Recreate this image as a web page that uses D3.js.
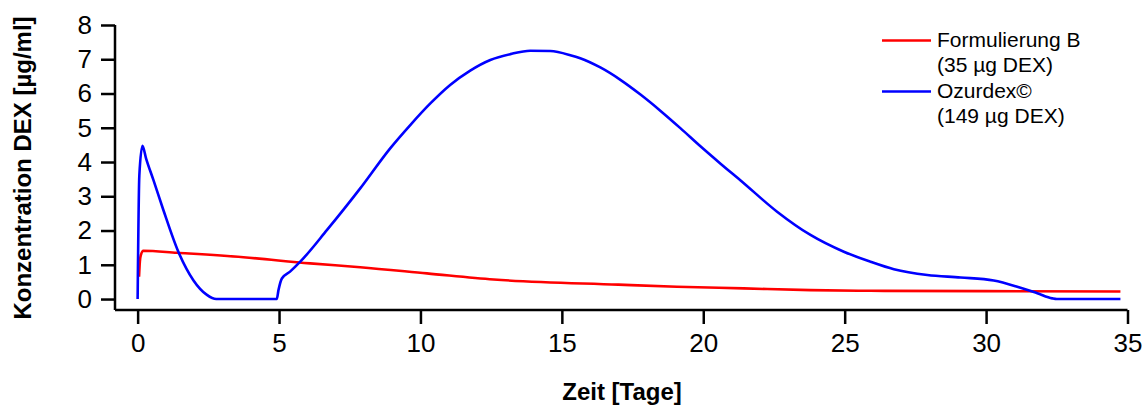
<!DOCTYPE html>
<html>
<head>
<meta charset="utf-8">
<script src="https://cdn.jsdelivr.net/npm/d3@7"></script>
<style>
    body { margin: 0; background: #fff; }
    svg { display: block; font-family: "Liberation Sans", Arial, sans-serif; }
</style>
</head>
<body>
<svg id="chart" width="1147" height="405"></svg>
<script>
// Values (days, µg/ml).
const formBDays = [0.05, 0.08, 0.12, 0.2, 1.39, 3.74, 6.1, 7.87, 10.23, 12.59, 17.0, 19.07, 21.43, 23.79, 25.91, 30.0, 34.75];
const formBConc = [0.65, 1.1, 1.3, 1.41, 1.35, 1.22, 1.04, 0.93, 0.75, 0.57, 0.42, 0.36, 0.31, 0.26, 0.24, 0.23, 0.22];

const ozurdexDays = [0, 0.06, 0.17, 0.3, 0.56, 0.91, 1.44, 1.97, 2.45, 2.78, 4.92, 4.98, 5.1, 5.39, 5.75, 6.69, 7.87,
    8.93, 9.64, 10.35, 11.05, 11.76, 12.47, 13.18, 13.88, 14.59, 15.3, 15.65, 16.36, 17.07, 17.78, 18.48, 19.19,
    19.9, 20.6, 21.31, 22.61, 23.79, 24.97, 25.91, 26.74, 27.92, 29.1, 30.27, 31.1, 31.81, 32.34, 32.5, 34.75];
const ozurdexConc = [0, 3.6, 4.47, 4.1, 3.47, 2.6, 1.38, 0.55, 0.12, 0, 0, 0.26, 0.6, 0.8, 1.09, 2.01, 3.23,
    4.40, 5.08, 5.71, 6.25, 6.67, 6.98, 7.15, 7.25, 7.24, 7.12, 7.03, 6.76, 6.40, 5.97, 5.50, 4.99,
    4.46, 3.96, 3.47, 2.55, 1.87, 1.38, 1.09, 0.87, 0.70, 0.63, 0.54, 0.36, 0.17, 0.02, 0, 0];

const xTicks = [0, 5, 10, 15, 20, 25, 30, 35];
const xMinorTicks = d3.range(0, 36, 1);
const yTicks = [0, 1, 2, 3, 4, 5, 6, 7, 8];
const yMinorTicks = d3.range(0, 8.01, 0.5);

const seriesNames = ['Formulierung B', 'Ozurdex\u00A9'];
const seriesDoses = ['(35 \u00B5g DEX)', '(149 \u00B5g DEX)'];
const seriesColors = ['#ff0000', '#0000ff'];

const svg = d3.select('#chart');

// axis lines start a little before 0 on both axes
let x = d3.scaleLinear().domain([-0.8, 35]).range([115, 1127.5]);
let y = d3.scaleLinear().domain([-0.32, 8]).range([310, 25]);

const series = [
    {name: seriesNames[0], dose: seriesDoses[0], color: seriesColors[0], days: formBDays, conc: formBConc},
    {name: seriesNames[1], dose: seriesDoses[1], color: seriesColors[1], days: ozurdexDays, conc: ozurdexConc},
];

// x axis
let xAxisG = svg.append('g').attr('transform', 'translate(0,310)');
xAxisG.call(d3.axisBottom(x).tickValues(xMinorTicks).tickSize(7).tickFormat(''));
xAxisG.call(d3.axisBottom(x).tickValues(xTicks).tickSize(14).tickPadding(10).tickFormat(d3.format('d')));
xAxisG.selectAll('path.domain').attr('stroke-width', 2.5).attr('d', 'M115,0H' + x(35));
xAxisG.selectAll('line').attr('stroke-width', 2.5);
xAxisG.selectAll('text').attr('font-size', 26).attr('font-family', '"Liberation Sans", Arial, sans-serif').attr('fill', '#000');

// y axis
let yAxisG = svg.append('g').attr('transform', 'translate(115,0)');
yAxisG.call(d3.axisLeft(y).tickValues(yMinorTicks).tickSize(7).tickFormat(''));
yAxisG.call(d3.axisLeft(y).tickValues(yTicks).tickSize(14).tickPadding(9).tickFormat(d3.format('d')));
yAxisG.selectAll('path.domain').attr('stroke-width', 2.5).attr('d', 'M0,310V' + y(8));
yAxisG.selectAll('line').attr('stroke-width', 2.5);
yAxisG.selectAll('text').attr('font-size', 26).attr('font-family', '"Liberation Sans", Arial, sans-serif').attr('fill', '#000');

// axis titles
svg.append('text')
    .attr('x', 622).attr('y', 400)
    .attr('text-anchor', 'middle')
    .attr('font-size', 24).attr('font-weight', 'bold')
    .text('Zeit [Tage]');

svg.append('text')
    .attr('transform', 'translate(31,168) rotate(-90)')
    .attr('text-anchor', 'middle')
    .attr('font-size', 24).attr('font-weight', 'bold')
    .text('Konzentration DEX [\u00B5g/ml]');

// curves
let line = d3.line()
    .x(d => x(d[0]))
    .y(d => y(d[1]))
    .curve(d3.curveMonotoneX);

series.forEach(s => {
    let pts = s.days.map((d, i) => [d, s.conc[i]]);
    svg.append('path')
        .datum(pts)
        .attr('fill', 'none')
        .attr('stroke', s.color)
        .attr('stroke-width', 2.6)
        .attr('stroke-linejoin', 'round')
        .attr('d', line);
});

// legend: two text rows per entry
let legend = svg.append('g').attr('transform', 'translate(882,0)');
series.forEach((s, i) => {
    let base = 47 + i * 51;
    legend.append('line')
        .attr('x1', 0).attr('x2', 49)
        .attr('y1', base - 6.5).attr('y2', base - 6.5)
        .attr('stroke', s.color).attr('stroke-width', 2.6);
    legend.append('text').attr('x', 55).attr('y', base).attr('font-size', 21).text(s.name);
    legend.append('text').attr('x', 55).attr('y', base + 25).attr('font-size', 21).text(s.dose);
});
</script>
</body>
</html>
